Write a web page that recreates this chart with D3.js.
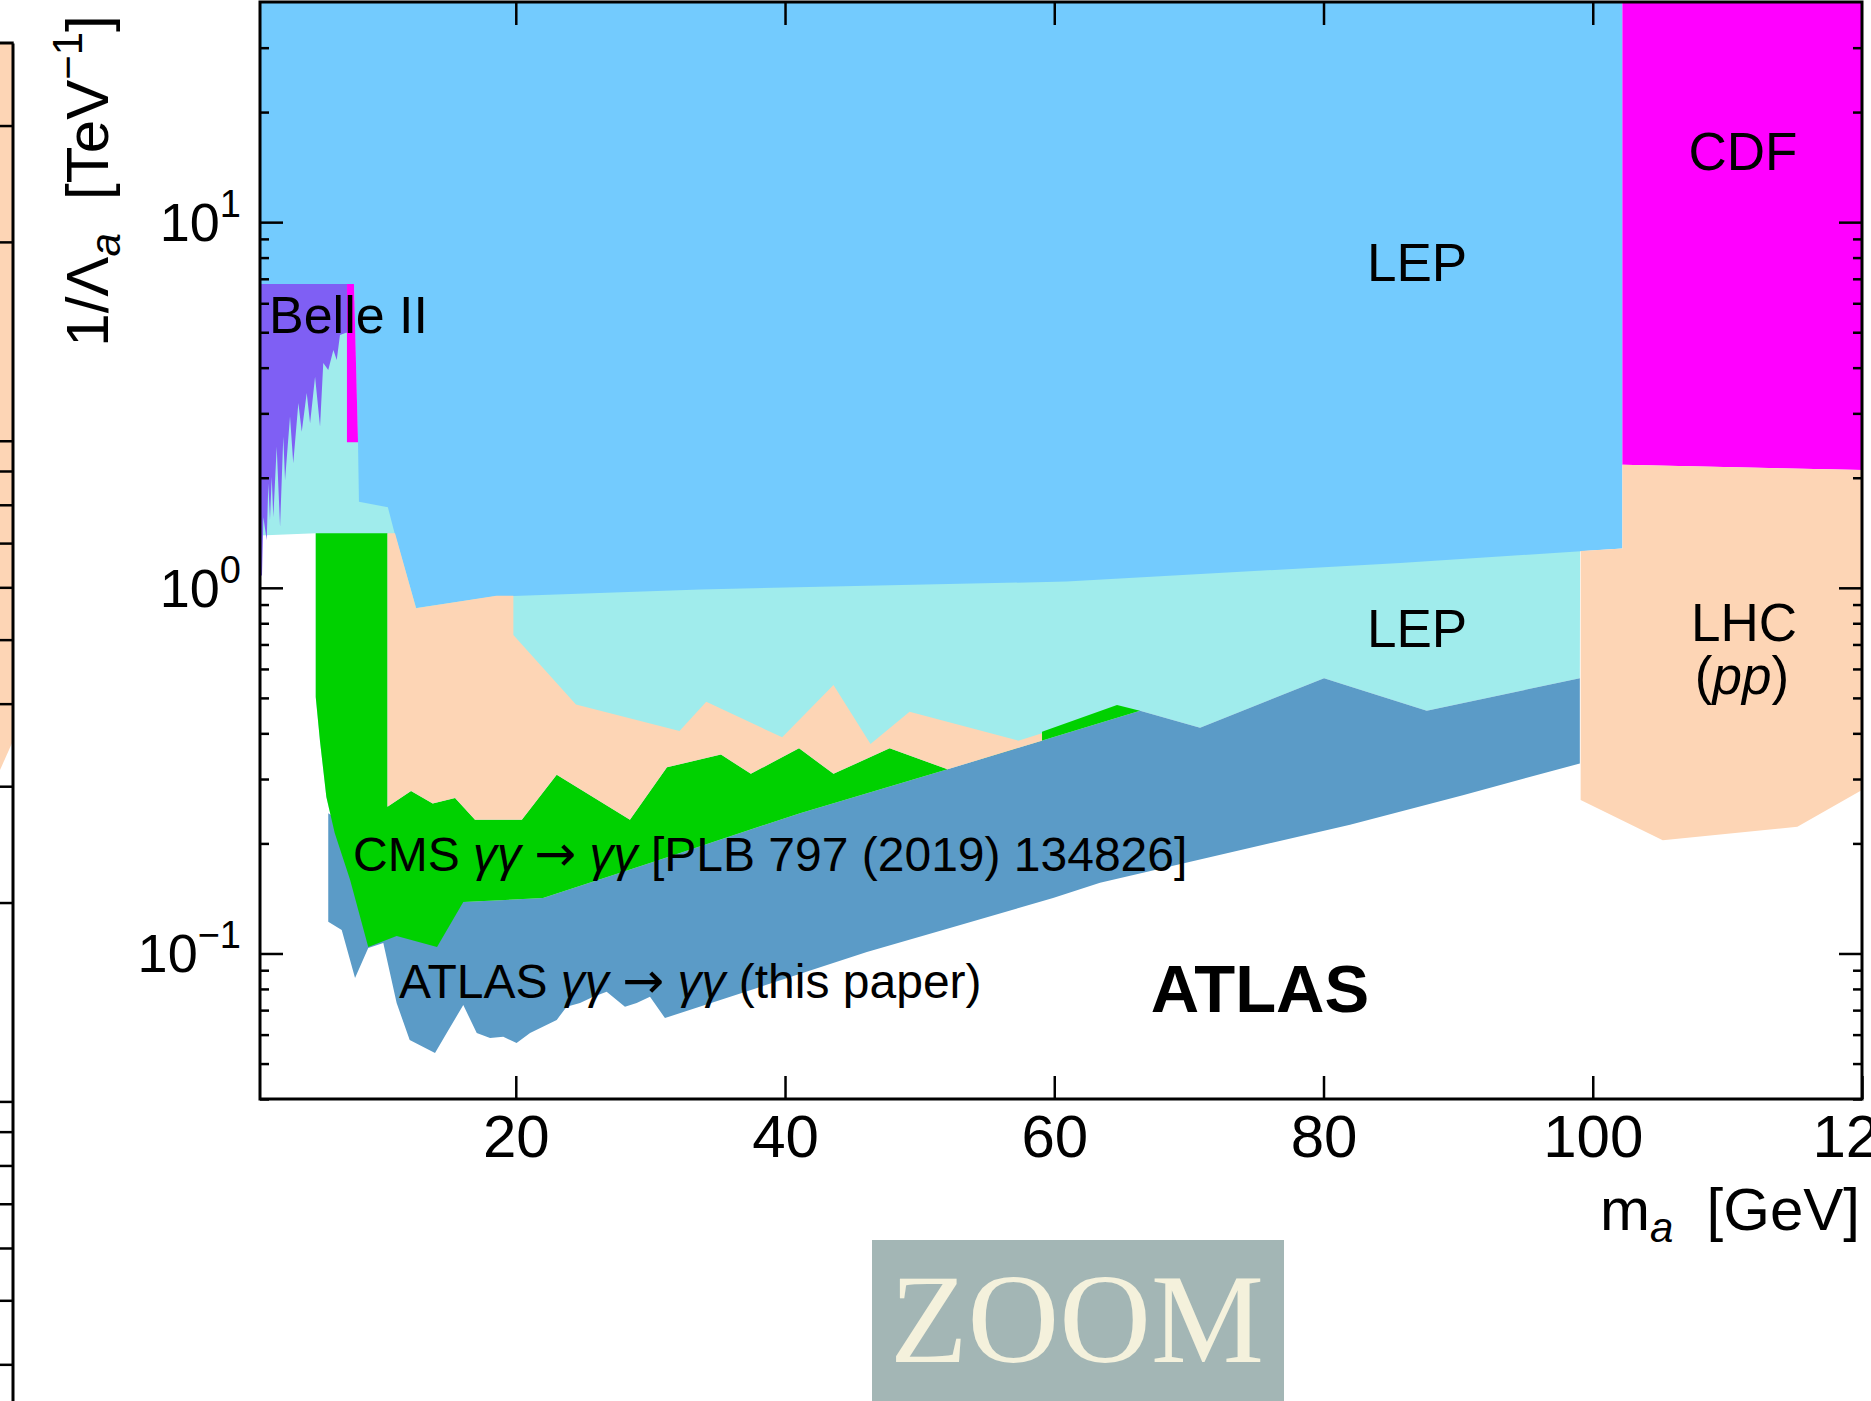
<!DOCTYPE html>
<html>
<head>
<meta charset="utf-8">
<script src="https://cdn.jsdelivr.net/npm/d3@7"></script>
<style>
  body { margin: 0; background: #fff; }
  svg { display: block; }
  text { font-family: "Liberation Sans", Arial, sans-serif; fill: #000; }
</style>
</head>
<body>
<div id="chart-area"></div>
<script>
// contours, as [m_a in GeV, 1/Lambda_a in TeV^-1]
var lepHighEdge = [[102.2, 1.28], [85.7, 1.17], [60.9, 1.04], [33.7, 0.99], [19.8, 0.95],
    [18.6, 0.95], [12.6, 0.88], [11.0, 1.41], [10.5, 1.66], [8.35, 1.72], [8.28, 2.5], [7.98, 6.77]];
var belleEdge = [[7.39, 4.98], [6.94, 4.91], [6.70, 4.20], [6.45, 4.47], [6.07, 3.94], [5.70, 4.12],
    [5.46, 2.76], [5.09, 3.78], [4.72, 2.82], [4.47, 3.41], [4.10, 2.67], [3.85, 3.20], [3.47, 2.19],
    [3.23, 2.94], [2.86, 1.97], [2.73, 2.59], [2.49, 1.47], [2.24, 2.43], [1.99, 1.56], [1.87, 2.01],
    [1.74, 1.53], [1.62, 1.93], [1.50, 1.35], [1.25, 1.56], [1.15, 1.08]];
var magentaStrip = [[7.46, 6.77], [7.98, 6.77], [8.28, 2.5], [7.46, 2.5]];
var ppTop = [[10.47, 1.41], [11.03, 1.41], [12.59, 0.879], [18.56, 0.952], [19.82, 0.952], [19.82, 0.743],
    [24.47, 0.48], [32.16, 0.406], [34.15, 0.488], [39.79, 0.39], [43.6, 0.542], [46.35, 0.374],
    [49.25, 0.458], [57.33, 0.382], [59.09, 0.4], [59.09, 0.382]];
var cmsTop = [[10.47, 0.252], [12.22, 0.278], [13.83, 0.257], [15.49, 0.266], [16.97, 0.232],
    [20.45, 0.232], [23.04, 0.308], [28.48, 0.232], [31.23, 0.323], [35.24, 0.35], [37.46, 0.31],
    [41.04, 0.364], [43.6, 0.31], [47.77, 0.364], [52.07, 0.319]];
var cmsTail = [[59.09, 0.382], [59.09, 0.404], [64.66, 0.478], [66.37, 0.461]];
var cmsLeft = [[5.14, 1.41], [5.14, 0.503], [5.46, 0.38], [5.93, 0.268], [6.55, 0.2135], [7.69, 0.159], [9.04, 0.1041]];
var cmsBottom = [[9.04, 0.1041], [11.15, 0.1116], [14.15, 0.1041], [16.1, 0.1383]];
var atlasTop = [[16.1, 0.1383], [22.02, 0.1418], [30.19, 0.178], [41.11, 0.242], [52.07, 0.319],
    [66.37, 0.461], [70.83, 0.414], [80.04, 0.566], [81.97, 0.537], [87.67, 0.461], [99.04, 0.566]];
var atlasBottom = [[99.04, 0.331], [90.35, 0.271], [81.97, 0.225], [63.4, 0.156], [59.91, 0.1418],
    [52.25, 0.1174], [46.08, 0.1009], [31.08, 0.0666], [29.97, 0.0762], [28.98, 0.0732], [28.11, 0.0715],
    [26.75, 0.0786], [25.76, 0.0762], [24.77, 0.0732], [23.78, 0.0715], [23.04, 0.0658], [21.06, 0.0606],
    [20.06, 0.0569], [19.07, 0.0592], [18.09, 0.0587], [17.1, 0.0606], [16.1, 0.0723], [14.87, 0.0606],
    [14.0, 0.0534], [12.12, 0.058], [11.15, 0.0732], [10.16, 0.1068], [9.04, 0.1035], [8.06, 0.0857],
    [7.07, 0.1159], [6.07, 0.1222]];
var cdfRegion = [[102.2, 40], [120, 40], [120, 2.10], [102.2, 2.17]];
var lhcRegion = [[99.1, 1.26], [102.2, 1.28], [102.2, 2.17], [120, 2.10], [120, 0.280],
    [115.2, 0.222], [105.2, 0.204], [99.1, 0.263]];

// axes
var xTicks = [20, 40, 60, 80, 100, 120];
var yMajor = [0.1, 1, 10];
var yExp = ["\u22121", "0", "1"];
var yMinor = [0.04, 0.05, 0.06, 0.07, 0.08, 0.09, 0.2, 0.3, 0.4, 0.5, 0.6, 0.7, 0.8, 0.9,
    2, 3, 4, 5, 6, 7, 8, 9, 20, 30];

// edge of the neighbouring panel on the far left
var stripTicks = [0.4, 0.5, 0.6, 0.7, 0.8, 0.9, 1, 2, 3, 4, 5, 6, 7, 8, 9, 10, 20, 30];
var stripFill = [[118, 40], [120, 40], [120, 3.5], [118, 2.9]];

var colors = {
    lepHigh: "#73cbfe", lepLow: "#a0ecec", pp: "#fdd5b5", cms: "#00d100",
    atlas: "#5b9bc7", belle: "#7f5ff4", cdf: "#ff00ff"
};

var width = 1871;
var height = 1401;

var svg = d3.select("#chart-area")
    .append("svg")
    .attr("width", width)
    .attr("height", height);

var x = d3.scaleLinear().domain([1, 120]).range([260, 1862]);
var y = d3.scaleLog().domain([0.04, 40]).range([1099, 2]);

var line = d3.line().x((d) => x(d[0])).y((d) => y(d[1]));

var plot = svg.append("g");
plot.append("clipPath").attr("id", "plotclip")
    .append("rect").attr("x", 260).attr("y", 2).attr("width", 1602).attr("height", 1097);
var fills = plot.append("g").attr("clip-path", "url(#plotclip)");

function region(pts, color) {
    fills.append("path").attr("d", line(pts) + "Z").attr("fill", color);
}

function rev(a) { return a.slice().reverse(); }

// LEP (low) sits underneath everything down to the CMS / ATLAS envelope
region([[1, 6.12], [99.1, 6.12]].concat(rev(atlasTop), rev(cmsBottom), rev(cmsLeft), [[1, 1.39]]), colors.lepLow);
region([[1, 40], [102.2, 40]].concat(lepHighEdge, [[1, 6.77]]), colors.lepHigh);
region([[6.07, 0.242]].concat(atlasTop, atlasBottom), colors.atlas);
region([cmsLeft[0], [10.47, 1.41]].concat(cmsTop, cmsTail,
    rev(atlasTop.filter((d) => d[0] <= 66.37)), rev(cmsBottom), rev(cmsLeft)), colors.cms);
region(ppTop.concat(rev(cmsTop)), colors.pp);
region([[1, 6.77], [7.46, 6.77], [7.46, 4.98]].concat(belleEdge, [[1, 1.08]]), colors.belle);
region(magentaStrip, colors.cdf);
region(cdfRegion, colors.cdf);
region(lhcRegion, colors.pp);

// frame
plot.append("rect")
    .attr("x", 260).attr("y", 2).attr("width", 1602).attr("height", 1097)
    .attr("fill", "none").attr("stroke", "#000").attr("stroke-width", 3);

function styleAxis(g) {
    g.select(".domain").remove();
    g.selectAll("line").attr("stroke", "#000").attr("stroke-width", 2.5);
}

var xAxisGroup = svg.append("g").attr("transform", "translate(0,1099)")
    .call(d3.axisBottom(x).tickValues(xTicks).tickSizeInner(-23).tickSizeOuter(0).tickPadding(15))
    .call(styleAxis);
xAxisGroup.selectAll("text").attr("font-size", 60).attr("fill", "#000");

svg.append("g").attr("transform", "translate(0,2)")
    .call(d3.axisTop(x).tickValues(xTicks.slice(0, 5)).tickSizeInner(-23).tickSizeOuter(0).tickFormat(""))
    .call(styleAxis);

svg.append("g").attr("transform", "translate(260,0)")
    .call(d3.axisLeft(y).tickValues(yMajor).tickSizeInner(-23).tickSizeOuter(0).tickFormat(""))
    .call(styleAxis);
svg.append("g").attr("transform", "translate(260,0)")
    .call(d3.axisLeft(y).tickValues(yMinor).tickSizeInner(-9).tickSizeOuter(0).tickFormat(""))
    .call(styleAxis);
svg.append("g").attr("transform", "translate(1862,0)")
    .call(d3.axisRight(y).tickValues(yMajor).tickSizeInner(-23).tickSizeOuter(0).tickFormat(""))
    .call(styleAxis);
svg.append("g").attr("transform", "translate(1862,0)")
    .call(d3.axisRight(y).tickValues(yMinor).tickSizeInner(-9).tickSizeOuter(0).tickFormat(""))
    .call(styleAxis);

var yLabels = svg.append("g").selectAll("text").data(yMajor).enter().append("text")
    .attr("x", 241)
    .attr("y", (d) => y(d) + 19)
    .attr("text-anchor", "end")
    .attr("font-size", 54);
yLabels.append("tspan").text("10");
yLabels.append("tspan").attr("font-size", 38).attr("dy", -24).text((d, i) => yExp[i]);

// axis titles
var xTitle = svg.append("text")
    .attr("x", 1860).attr("y", 1230)
    .attr("text-anchor", "end")
    .attr("font-size", 60)
    .style("white-space", "pre");
xTitle.append("tspan").text("m");
xTitle.append("tspan").attr("font-size", 42).attr("font-style", "italic").attr("dy", 12).text("a");
xTitle.append("tspan").attr("dy", -12).text("  [GeV]");

var yTitle = svg.append("text")
    .attr("transform", "translate(108,181) rotate(-90)")
    .attr("text-anchor", "middle")
    .attr("font-size", 60)
    .style("white-space", "pre");
yTitle.append("tspan").text("1/\u039b");
yTitle.append("tspan").attr("font-size", 42).attr("font-style", "italic").attr("dy", 12).text("a");
yTitle.append("tspan").attr("dy", -12).text("  [TeV");
yTitle.append("tspan").attr("font-size", 42).attr("dy", -26).text("\u22121");
yTitle.append("tspan").attr("dy", 26).text("]");

// region labels
function label(txt, px, py, size, anchor) {
    return svg.append("text").attr("x", px).attr("y", py)
        .attr("font-size", size).attr("text-anchor", anchor || "middle").text(txt);
}
label("Belle II", 269, 333, 52, "start");
label("LEP", 1417, 281, 53);
label("LEP", 1417, 647, 53);
label("CDF", 1743, 170, 53);
label("LHC", 1744, 641, 53);
var pp = svg.append("text").attr("x", 1742).attr("y", 694).attr("font-size", 53).attr("text-anchor", "middle");
pp.append("tspan").text("(");
pp.append("tspan").attr("font-style", "italic").text("pp");
pp.append("tspan").text(")");

// gamma gamma -> gamma gamma labels, arrow taken from DejaVu so it is full size
function processLabel(g, head, tail) {
    g.append("tspan").text(head + " ");
    g.append("tspan").attr("font-style", "italic").text("\u03b3\u03b3");
    g.append("tspan").text(" ");
    g.append("tspan").style("font-family", "DejaVu Sans").attr("font-size", 50).text("\u2192");
    g.append("tspan").text(" ");
    g.append("tspan").attr("font-style", "italic").text("\u03b3\u03b3");
    g.append("tspan").text(" " + tail);
}
var cmsLabel = svg.append("text").attr("x", 353).attr("y", 871).attr("font-size", 48).style("white-space", "pre");
processLabel(cmsLabel, "CMS", "[PLB 797 (2019) 134826]");
var atlasLabel = svg.append("text").attr("x", 399).attr("y", 998).attr("font-size", 48).style("white-space", "pre");
processLabel(atlasLabel, "ATLAS", "(this paper)");

svg.append("text").attr("x", 1260).attr("y", 1012)
    .attr("font-size", 67).attr("font-weight", "bold").attr("text-anchor", "middle")
    .text("ATLAS");

// neighbouring panel edge
var stripX = d3.scaleLinear().domain([119, 120]).range([0.5, 12.5]);
var stripY = d3.scaleLog().domain([0.352, 40]).range([1401, 43]);
var stripLine = d3.line().x((d) => stripX(d[0])).y((d) => stripY(d[1]));
svg.append("path").attr("d", stripLine(stripFill) + "Z").attr("fill", colors.pp);
svg.append("g").attr("transform", "translate(" + stripX(120) + ",0)")
    .call(d3.axisLeft(stripY).tickValues(stripTicks).tickSizeInner(13).tickSizeOuter(0).tickFormat(""))
    .call((g) => g.selectAll("line").attr("stroke", "#000").attr("stroke-width", 2.5))
    .call((g) => g.select(".domain").attr("stroke", "#000").attr("stroke-width", 3));
svg.append("path")
    .attr("d", stripLine([[118, 40], [120.1, 40]]))
    .attr("stroke", "#000").attr("stroke-width", 3);

// zoom badge
svg.append("rect").attr("x", 872).attr("y", 1240).attr("width", 412).attr("height", 161).attr("fill", "#a3b6b5");
svg.append("text").attr("x", 1077).attr("y", 1362)
    .style("font-family", "'Liberation Serif', 'DejaVu Serif', serif").attr("font-size", 127)
    .attr("text-anchor", "middle").style("fill", "#f4f1dc")
    .text("ZOOM");
</script>
</body>
</html>
